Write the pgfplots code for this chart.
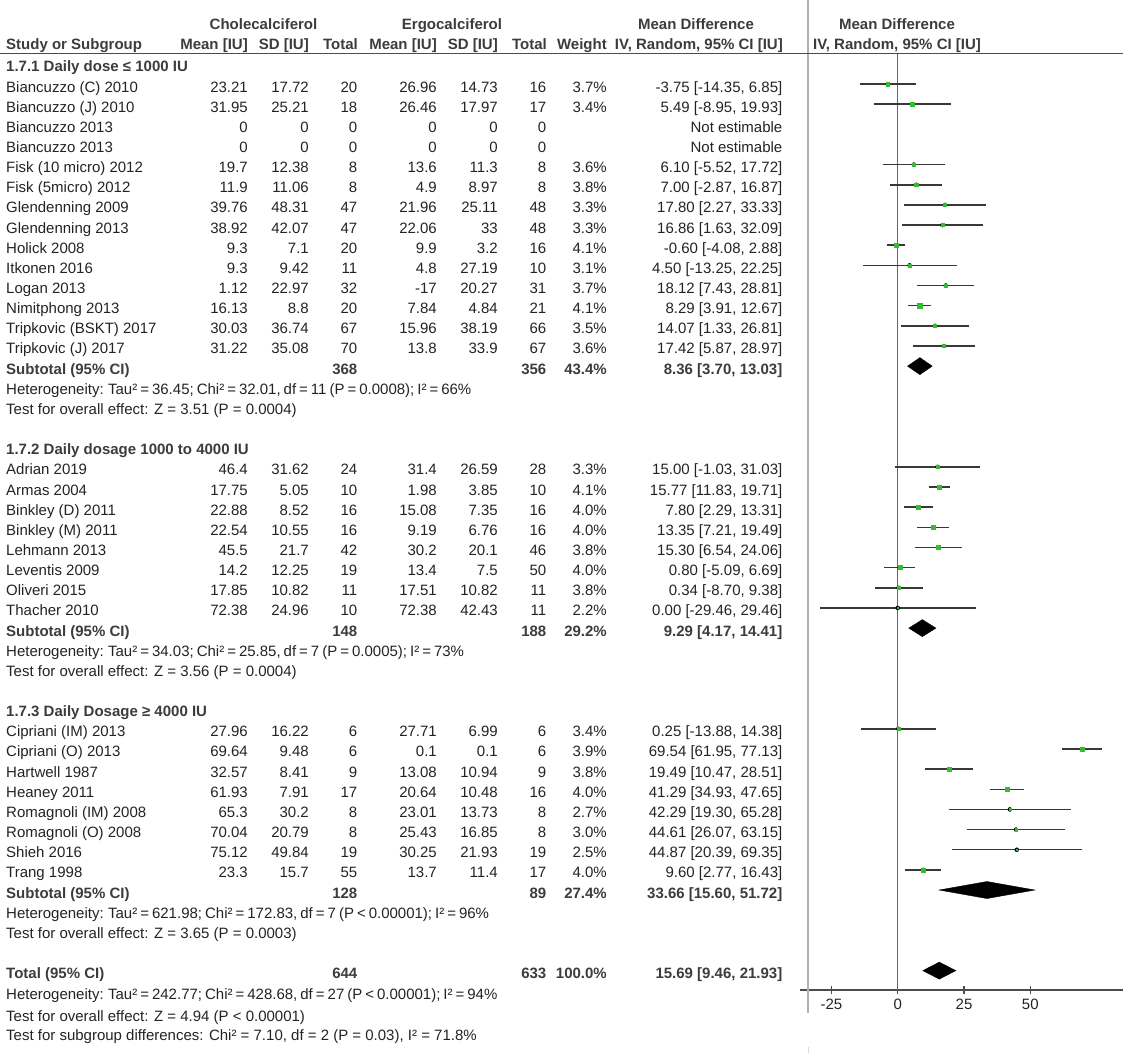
\documentclass[border=0pt]{standalone}
\usepackage{fontspec}
\setmainfont{Liberation Sans}
\usepackage{pgfplots}
\usepackage{pgfplotstable}
\pgfplotsset{compat=1.18}

\definecolor{mk}{RGB}{50,190,50}
\definecolor{tx}{RGB}{35,35,35}
\definecolor{hd}{RGB}{60,60,60}

% study rows: row index, mean difference, CI low, CI high, weight (%)
\pgfplotstableread{
i  md     lo      hi     w
0  -3.75  -14.35  6.85   3.7
1  5.49   -8.95   19.93  3.4
4  6.10   -5.52   17.72  3.6
5  7.00   -2.87   16.87  3.8
6  17.80  2.27    33.33  3.3
7  16.86  1.63    32.09  3.3
8  -0.60  -4.08   2.88   4.1
9  4.50   -13.25  22.25  3.1
10 18.12  7.43    28.81  3.7
11 8.29   3.91    12.67  4.1
12 14.07  1.33    26.81  3.5
13 17.42  5.87    28.97  3.6
19 15.00  -1.03   31.03  3.3
20 15.77  11.83   19.71  4.1
21 7.80   2.29    13.31  4.0
22 13.35  7.21    19.49  4.0
23 15.30  6.54    24.06  3.8
24 0.80   -5.09   6.69   4.0
25 0.34   -8.70   9.38   3.8
26 0.00   -29.46  29.46  2.2
32 0.25   -13.88  14.38  3.4
33 69.54  61.95   77.13  3.9
34 19.49  10.47   28.51  3.8
35 41.29  34.93   47.65  4.0
36 42.29  19.30   65.28  2.7
37 44.61  26.07   63.15  3.0
38 44.87  20.39   69.35  2.5
39 9.60   2.77    16.43  4.0
}\studies

\newcount\rowc
\newcommand\ry{\pgfmathsetmacro\yb{84+20.15*\the\rowc+8}}
% name, mean1, sd1, n1, mean2, sd2, n2, weight, CI
\newcommand\srow[9]{%
  \ry
  \node[anchor=base west] at (6,\yb) {#1};
  \node[anchor=base east] at (248,\yb) {#2};
  \node[anchor=base east] at (309,\yb) {#3};
  \node[anchor=base east] at (357.5,\yb) {#4};
  \node[anchor=base east] at (437,\yb) {#5};
  \node[anchor=base east] at (498,\yb) {#6};
  \node[anchor=base east] at (546.5,\yb) {#7};
  \node[anchor=base east] at (607,\yb) {#8};
  \node[anchor=base east] at (782.5,\yb) {#9};
  \global\advance\rowc by 1\relax}
% bold subtotal: label, n1, n2, weight, CI
\newcommand\brow[5]{%
  \ry
  \node[anchor=base west,font=\fontsize{15}{18}\selectfont\bfseries,text=hd] at (6,\yb) {#1};
  \node[anchor=base east,font=\fontsize{15}{18}\selectfont\bfseries,text=hd] at (357.5,\yb) {#2};
  \node[anchor=base east,font=\fontsize{15}{18}\selectfont\bfseries,text=hd] at (546.5,\yb) {#3};
  \node[anchor=base east,font=\fontsize{15}{18}\selectfont\bfseries,text=hd] at (607,\yb) {#4};
  \node[anchor=base east,font=\fontsize{15}{18}\selectfont\bfseries,text=hd] at (782.5,\yb) {#5};
  \global\advance\rowc by 1\relax}
\newcommand\lrow[1]{\ry\node[anchor=base west] at (6,\yb) {#1};\global\advance\rowc by 1\relax}
\newcommand\het[1]{\ry\node[anchor=base west] at (6,\yb) {\spaceskip=3pt\relax #1};\global\advance\rowc by 1\relax}
\newcommand\hrow[1]{\ry\node[anchor=base west,font=\fontsize{15}{18}\selectfont\bfseries,text=hd] at (6,\yb) {#1};\global\advance\rowc by 1\relax}
\newcommand\blank{\global\advance\rowc by 1\relax}

\begin{document}
\begin{tikzpicture}[x=1pt,y=-1pt]

\begin{axis}[
  at={(800pt,0pt)}, anchor=north west,
  scale only axis, width=323pt, height=990pt,
  xmin=-36.84, xmax=84.96, ymin=0, ymax=990, y dir=reverse,
  axis x line=bottom, axis y line=none,
  axis line style={-, draw=black!70, line width=1.3pt},
  xtick={-25,0,25,50}, xticklabels={-25,0,25,50}, ytick=\empty,
  major tick length=8pt, tick align=center,
  tick style={draw=black!70, line width=1.3pt},
  xticklabel style={font=\fontsize{15}{18}\selectfont, text=tx, yshift=-1pt},
  clip=false]
\addplot[draw=black!60, line width=1.3pt] coordinates {(0,53) (0,990)};
\addplot[only marks, mark=none,
  error bars/.cd, x dir=both, x explicit, error mark=none,
  error bar style={draw=black!78, line width=1.5pt}]
  table[x=md, y expr=84+20.15*\thisrow{i},
        x error plus expr=\thisrow{hi}-\thisrow{md},
        x error minus expr=\thisrow{md}-\thisrow{lo}] \studies;
\addplot[scatter, only marks, mark=square*,
  scatter/use mapped color={draw=mk, fill=mk},
  visualization depends on={0.7*\thisrow{w}-0.8 \as \msz},
  scatter/@pre marker code/.append style={/tikz/mark size=\msz}]
  table[x=md, y expr=84+20.15*\thisrow{i}] \studies;
% pooled estimates
\addplot[fill=black, draw=black] coordinates {(3.70,366.1) (8.36,357.6) (13.03,366.1) (8.36,374.6)} -- cycle;
\addplot[fill=black, draw=black] coordinates {(4.17,628.1) (9.29,619.6) (14.41,628.1) (9.29,636.6)} -- cycle;
\addplot[fill=black, draw=black] coordinates {(15.60,890.0) (33.66,881.5) (51.72,890.0) (33.66,898.5)} -- cycle;
\addplot[fill=black, draw=black] coordinates {(9.46,970.6) (15.69,962.1) (21.93,970.6) (15.69,979.1)} -- cycle;
\end{axis}

\draw[line width=2pt, black!30] (808,0) -- (808,1013);
\draw[line width=1pt, black!15] (808,1047) -- (808,1053);
\draw[line width=1.5pt, black!70] (0,53.3) -- (1123,53.3);

\begin{scope}[every node/.style={inner sep=0pt, font=\fontsize{15}{18}\selectfont, text=tx}]
\begin{scope}[every node/.append style={font=\fontsize{15}{18}\selectfont\bfseries, text=hd}]
\node[anchor=base] at (263.5,29.3) {Cholecalciferol};
\node[anchor=base] at (452,29.3) {Ergocalciferol};
\node[anchor=base] at (696,29.3) {Mean Difference};
\node[anchor=base] at (897,29.3) {Mean Difference};
\node[anchor=base west] at (6,49.3) {Study or Subgroup};
\node[anchor=base east] at (248,49.3) {Mean [IU]};
\node[anchor=base east] at (309,49.3) {SD [IU]};
\node[anchor=base east] at (358,49.3) {Total};
\node[anchor=base east] at (437,49.3) {Mean [IU]};
\node[anchor=base east] at (498,49.3) {SD [IU]};
\node[anchor=base east] at (547,49.3) {Total};
\node[anchor=base east] at (607,49.3) {Weight};
\node[anchor=base east] at (783,49.3) {IV, Random, 95\% CI [IU]};
\node[anchor=base] at (897,49.3) {IV, Random, 95\% CI [IU]};
\end{scope}

\global\rowc=-1
\hrow{1.7.1 Daily dose ≤ 1000 IU}
\srow{Biancuzzo (C) 2010}{23.21}{17.72}{20}{26.96}{14.73}{16}{3.7\%}{-3.75 [-14.35, 6.85]}
\srow{Biancuzzo (J) 2010}{31.95}{25.21}{18}{26.46}{17.97}{17}{3.4\%}{5.49 [-8.95, 19.93]}
\srow{Biancuzzo 2013}{0}{0}{0}{0}{0}{0}{}{Not estimable}
\srow{Biancuzzo 2013}{0}{0}{0}{0}{0}{0}{}{Not estimable}
\srow{Fisk (10 micro) 2012}{19.7}{12.38}{8}{13.6}{11.3}{8}{3.6\%}{6.10 [-5.52, 17.72]}
\srow{Fisk (5micro) 2012}{11.9}{11.06}{8}{4.9}{8.97}{8}{3.8\%}{7.00 [-2.87, 16.87]}
\srow{Glendenning 2009}{39.76}{48.31}{47}{21.96}{25.11}{48}{3.3\%}{17.80 [2.27, 33.33]}
\srow{Glendenning 2013}{38.92}{42.07}{47}{22.06}{33}{48}{3.3\%}{16.86 [1.63, 32.09]}
\srow{Holick 2008}{9.3}{7.1}{20}{9.9}{3.2}{16}{4.1\%}{-0.60 [-4.08, 2.88]}
\srow{Itkonen 2016}{9.3}{9.42}{11}{4.8}{27.19}{10}{3.1\%}{4.50 [-13.25, 22.25]}
\srow{Logan 2013}{1.12}{22.97}{32}{-17}{20.27}{31}{3.7\%}{18.12 [7.43, 28.81]}
\srow{Nimitphong 2013}{16.13}{8.8}{20}{7.84}{4.84}{21}{4.1\%}{8.29 [3.91, 12.67]}
\srow{Tripkovic (BSKT) 2017}{30.03}{36.74}{67}{15.96}{38.19}{66}{3.5\%}{14.07 [1.33, 26.81]}
\srow{Tripkovic (J) 2017}{31.22}{35.08}{70}{13.8}{33.9}{67}{3.6\%}{17.42 [5.87, 28.97]}
\brow{Subtotal (95\% CI)}{368}{356}{43.4\%}{8.36 [3.70, 13.03]}
\het{Heterogeneity: Tau² = 36.45; Chi² = 32.01, df = 11 (P = 0.0008); I² = 66\%}
\lrow{Test for overall effect: Z = 3.51 (P = 0.0004)}
\blank
\hrow{1.7.2 Daily dosage 1000 to 4000 IU}
\srow{Adrian 2019}{46.4}{31.62}{24}{31.4}{26.59}{28}{3.3\%}{15.00 [-1.03, 31.03]}
\srow{Armas 2004}{17.75}{5.05}{10}{1.98}{3.85}{10}{4.1\%}{15.77 [11.83, 19.71]}
\srow{Binkley (D) 2011}{22.88}{8.52}{16}{15.08}{7.35}{16}{4.0\%}{7.80 [2.29, 13.31]}
\srow{Binkley (M) 2011}{22.54}{10.55}{16}{9.19}{6.76}{16}{4.0\%}{13.35 [7.21, 19.49]}
\srow{Lehmann 2013}{45.5}{21.7}{42}{30.2}{20.1}{46}{3.8\%}{15.30 [6.54, 24.06]}
\srow{Leventis 2009}{14.2}{12.25}{19}{13.4}{7.5}{50}{4.0\%}{0.80 [-5.09, 6.69]}
\srow{Oliveri 2015}{17.85}{10.82}{11}{17.51}{10.82}{11}{3.8\%}{0.34 [-8.70, 9.38]}
\srow{Thacher 2010}{72.38}{24.96}{10}{72.38}{42.43}{11}{2.2\%}{0.00 [-29.46, 29.46]}
\brow{Subtotal (95\% CI)}{148}{188}{29.2\%}{9.29 [4.17, 14.41]}
\het{Heterogeneity: Tau² = 34.03; Chi² = 25.85, df = 7 (P = 0.0005); I² = 73\%}
\lrow{Test for overall effect: Z = 3.56 (P = 0.0004)}
\blank
\hrow{1.7.3 Daily Dosage ≥ 4000 IU}
\srow{Cipriani (IM) 2013}{27.96}{16.22}{6}{27.71}{6.99}{6}{3.4\%}{0.25 [-13.88, 14.38]}
\srow{Cipriani (O) 2013}{69.64}{9.48}{6}{0.1}{0.1}{6}{3.9\%}{69.54 [61.95, 77.13]}
\srow{Hartwell 1987}{32.57}{8.41}{9}{13.08}{10.94}{9}{3.8\%}{19.49 [10.47, 28.51]}
\srow{Heaney 2011}{61.93}{7.91}{17}{20.64}{10.48}{16}{4.0\%}{41.29 [34.93, 47.65]}
\srow{Romagnoli (IM) 2008}{65.3}{30.2}{8}{23.01}{13.73}{8}{2.7\%}{42.29 [19.30, 65.28]}
\srow{Romagnoli (O) 2008}{70.04}{20.79}{8}{25.43}{16.85}{8}{3.0\%}{44.61 [26.07, 63.15]}
\srow{Shieh 2016}{75.12}{49.84}{19}{30.25}{21.93}{19}{2.5\%}{44.87 [20.39, 69.35]}
\srow{Trang 1998}{23.3}{15.7}{55}{13.7}{11.4}{17}{4.0\%}{9.60 [2.77, 16.43]}
\brow{Subtotal (95\% CI)}{128}{89}{27.4\%}{33.66 [15.60, 51.72]}
\het{Heterogeneity: Tau² = 621.98; Chi² = 172.83, df = 7 (P < 0.00001); I² = 96\%}
\lrow{Test for overall effect: Z = 3.65 (P = 0.0003)}
\blank
\brow{Total (95\% CI)}{644}{633}{100.0\%}{15.69 [9.46, 21.93]}
\node[anchor=base west] at (6,999) {\spaceskip=3pt\relax Heterogeneity: Tau² = 242.77; Chi² = 428.68, df = 27 (P < 0.00001); I² = 94\%};
\node[anchor=base west] at (6,1021.5) {Test for overall effect: Z = 4.94 (P < 0.00001)};
\node[anchor=base west] at (6,1040.5) {Test for subgroup differences: Chi² = 7.10, df = 2 (P = 0.03), I² = 71.8\%};
\end{scope}

\pgfresetboundingbox
\path (0,0) rectangle (1123,1053);
\end{tikzpicture}
\end{document}
